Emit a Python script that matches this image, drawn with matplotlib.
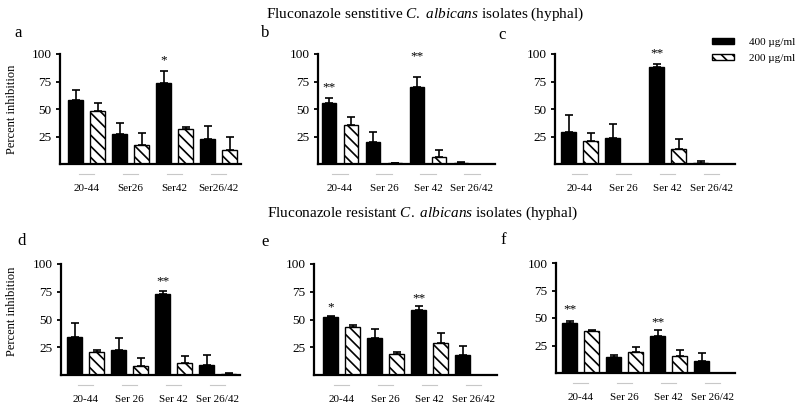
import matplotlib
matplotlib.use('Agg')
import matplotlib.pyplot as plt
from matplotlib.patches import Patch
from matplotlib.transforms import blended_transform_factory
import numpy as np

plt.rcParams['font.family'] = ['Liberation Serif', 'DejaVu Serif']
plt.rcParams['mathtext.fontset'] = 'custom'
plt.rcParams['mathtext.rm'] = 'Liberation Serif'
plt.rcParams['mathtext.it'] = 'Liberation Serif:italic'
plt.rcParams['hatch.linewidth'] = 1.2

# ---- data ----
groups_a = ['20-44', 'Ser26', 'Ser42', 'Ser26/42']
groups = ['20-44', 'Ser 26', 'Ser 42', 'Ser 26/42']
series_labels = ['400 \u00b5g/ml', '200 \u00b5g/ml']

a_400 = [58, 27, 74, 23]
a_400_err = [9, 10, 11, 12]
a_200 = [48, 17, 32, 13]
a_200_err = [7.5, 11, 2, 12]

b_400 = [55.5, 20, 70, 1]
b_400_err = [4.5, 9, 9, 0.5]
b_200 = [35.5, 0.5, 6.5, 0]
b_200_err = [7.5, 0, 6.5, 0]

c_400 = [29, 23.5, 88, 1]
c_400_err = [16, 12.5, 3, 1.5]
c_200 = [21, 0.3, 14, 0]
c_200_err = [7, 0, 9, 0]

d_400 = [34, 22.5, 73, 9]
d_400_err = [13, 10.5, 3, 9]
d_200 = [21, 8, 11, 1]
d_200_err = [1.5, 7, 6, 1]

e_400 = [52, 33, 59, 18]
e_400_err = [1.6, 8, 3.6, 8]
e_200 = [43, 18.6, 29, 0]
e_200_err = [2, 2.4, 9, 0]

f_400 = [45.6, 14.2, 33.8, 10.9]
f_400_err = [1.8, 2.4, 5.2, 6.9]
f_200 = [38.4, 19.3, 15.7, 0]
f_200_err = [0.6, 4.3, 5.1, 0]

# significance marks: (group index, text, height)
a_stars = [(2, '*', 94.5)]
b_stars = [(0, '**', 70), (2, '**', 98)]
c_stars = [(2, '**', 101)]
d_stars = [(2, '**', 84)]
e_stars = [(0, '*', 61), (2, '**', 69)]
f_stars = [(0, '**', 58), (2, '**', 46)]

titles = [r'Fluconazole senstitive $\mathit{C.}$ $\mathit{albicans}$ isolates (hyphal)',
          r'Fluconazole resistant $\mathit{C.}$ $\mathit{albicans}$ isolates (hyphal)']

W, H = 800, 409
fig = plt.figure(figsize=(W / 100, H / 100), dpi=100)

UNIT = 22.0  # px per bar slot
HATCH = '\\\\\\'

panels = [
    # letter, px geometry (left, right, first bar centre, y0, y100), data
    ('a', (60, 241, 75.5, 164, 54), groups_a, a_400, a_400_err, a_200, a_200_err, a_stars, (18, 33)),
    ('b', (318, 495, 329, 164, 54), groups, b_400, b_400_err, b_200, b_200_err, b_stars, (265, 33)),
    ('c', (555, 735, 568.5, 164, 54), groups, c_400, c_400_err, c_200, c_200_err, c_stars, (502, 35)),
    ('d', (61, 240, 74.5, 375, 264), groups, d_400, d_400_err, d_200, d_200_err, d_stars, (22, 241)),
    ('e', (314, 497, 330.5, 375, 264), groups, e_400, e_400_err, e_200, e_200_err, e_stars, (265, 242)),
    ('f', (556, 735, 569.5, 373, 263), groups, f_400, f_400_err, f_200, f_200_err, f_stars, (503, 240)),
]

axes = {}
for letter, geo, glabels, v4, e4, v2, e2, stars, lpos in panels:
    left, right, first, y0, y100 = geo
    ax = fig.add_axes([left / W, 1 - y0 / H, (right - left) / W, (y0 - y100) / H])
    axes[letter] = ax
    n = len(glabels)
    xb = np.arange(n) * 2.0
    xh = xb + 1.0
    bw = 0.68
    ax.bar(xb, v4, bw, color='black', edgecolor='black', linewidth=1, zorder=2)
    ax.bar(xh, v2, bw, color='white', edgecolor='black', linewidth=1, hatch=HATCH, zorder=2)
    ax.errorbar(xb, v4, yerr=[np.zeros(n), e4], fmt='none', ecolor='black',
                elinewidth=1.2, capsize=3, capthick=1.2, zorder=3)
    ax.errorbar(xh, v2, yerr=[np.zeros(n), e2], fmt='none', ecolor='black',
                elinewidth=1.2, capsize=3, capthick=1.2, zorder=3)
    ax.set_xlim((left - first) / UNIT, (right - first) / UNIT)
    ax.set_ylim(0, 100)
    ax.set_yticks([25, 50, 75, 100])
    ax.set_yticklabels(['25', '50', '75', '100'])
    ax.set_xticks([])
    ax.tick_params(axis='y', direction='out', length=3, width=1.3, labelsize=9.5, pad=3)
    for s in ['top', 'right']:
        ax.spines[s].set_visible(False)
    for s in ['left', 'bottom']:
        ax.spines[s].set_linewidth(1.6)
    trans = blended_transform_factory(ax.transData, ax.transAxes)
    h_px = y0 - y100
    for i, lab in enumerate(glabels):
        cx = xb[i] + 0.5
        ax.plot([cx - 0.35, cx + 0.35], [-10 / h_px, -10 / h_px], color='#c8c8c8',
                linewidth=0.8, transform=trans, clip_on=False)
        ax.text(cx, -24 / h_px, lab, ha='center', va='center', fontsize=8,
                transform=trans)
    for gi, txt, yy in stars:
        ax.text(xb[gi], yy, txt, ha='center', va='center', fontsize=9.5)
    fig.text(lpos[0] / W, 1 - lpos[1] / H, letter, ha='center', va='center', fontsize=12)

fig.text(12 / W, 1 - 109 / H, 'Percent inhibition', rotation=90, ha='center', va='center', fontsize=9)
fig.text(12 / W, 1 - 311 / H, 'Percent inhibition', rotation=90, ha='center', va='center', fontsize=9)

fig.text(425 / W, 1 - 14 / H, titles[0], ha='center', va='center', fontsize=11)
fig.text(423 / W, 1 - 213 / H, titles[1], ha='center', va='center', fontsize=11)

handles = [Patch(facecolor='black', edgecolor='black'),
           Patch(facecolor='white', edgecolor='black', hatch=HATCH)]
fig.legend(handles, series_labels, loc='upper left', bbox_to_anchor=(712 / W, 1 - 38 / H),
           frameon=False, fontsize=8, handlelength=2.0, handleheight=0.45,
           handletextpad=1.3, labelspacing=0.6, borderaxespad=0, borderpad=0)

fig.savefig('out.png', dpi=100)
